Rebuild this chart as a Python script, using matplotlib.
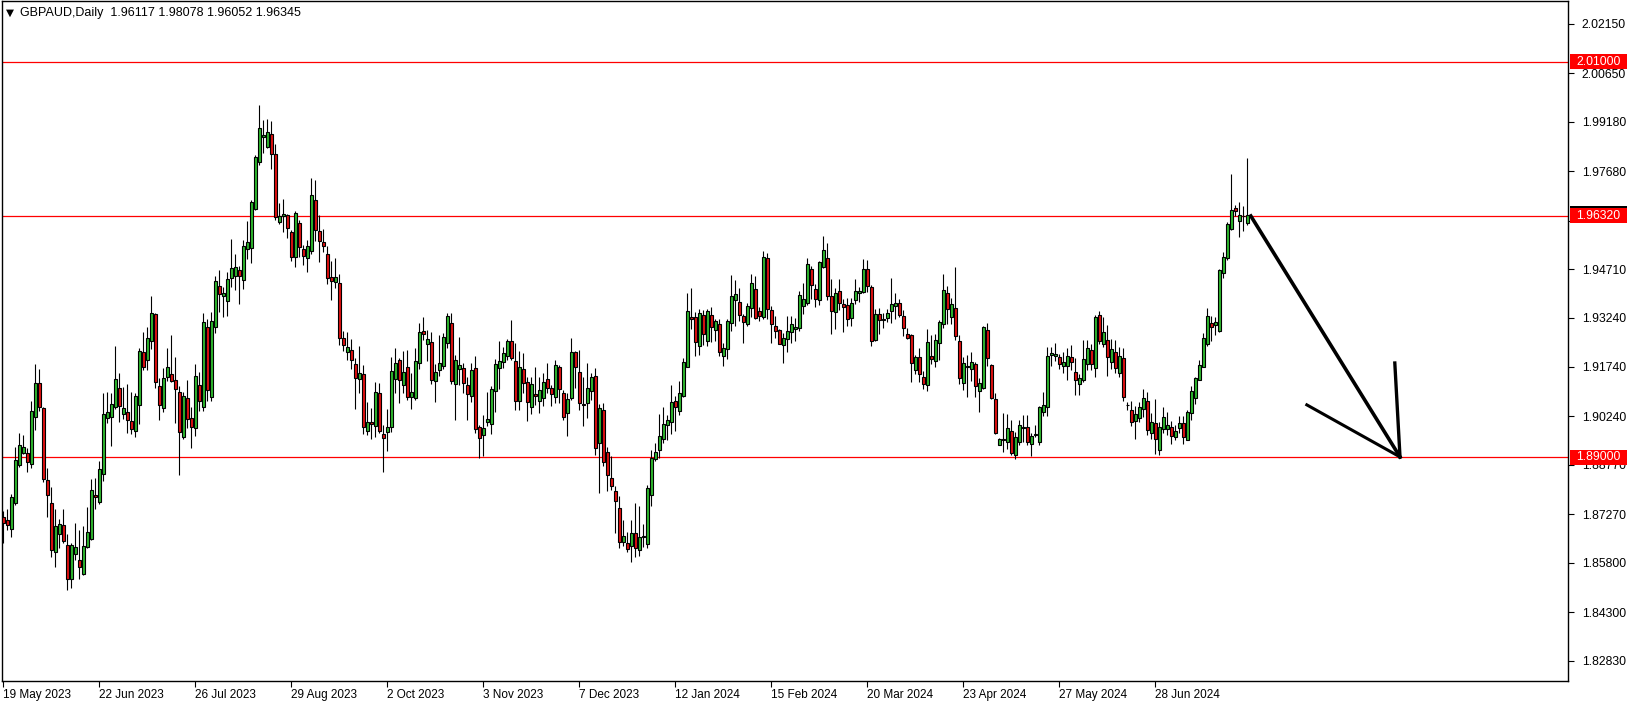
import numpy as np
import matplotlib
matplotlib.use("Agg")
import matplotlib.pyplot as plt
from matplotlib.patches import Rectangle
import matplotlib.transforms as mtransforms

plt.rcParams['font.family'] = ['Liberation Sans', 'DejaVu Sans']

# GBPAUD daily candles, bar 0 = 19 May 2023
opens = [1.8720, 1.8710, 1.8682, 1.8760, 1.8876, 1.8914, 1.8913, 1.8879, 1.9021, 1.9124,
         1.9049, 1.8830, 1.8761, 1.8614, 1.8666, 1.8694, 1.8634, 1.8530, 1.8608, 1.8589,
         1.8546, 1.8629, 1.8653, 1.8786, 1.8764, 1.8848, 1.9018, 1.9023, 1.9052, 1.9110,
         1.9030, 1.9036, 1.9010, 1.8981, 1.9058, 1.9219, 1.9194, 1.9252, 1.9334, 1.9116,
         1.9048, 1.9143, 1.9153, 1.9135, 1.9097, 1.8963, 1.9080, 1.9018, 1.8990, 1.9118,
         1.9051, 1.9295, 1.9082, 1.9295, 1.9419, 1.9388, 1.9373, 1.9444, 1.9449, 1.9468,
         1.9437, 1.9532, 1.9535, 1.9653, 1.9795, 1.9872, 1.9841, 1.9882, 1.9820, 1.9614,
         1.9631, 1.9635, 1.9584, 1.9508, 1.9611, 1.9532, 1.9504, 1.9525, 1.9681, 1.9586,
         1.9553, 1.9517, 1.9448, 1.9431, 1.9429, 1.9262, 1.9219, 1.9225, 1.9182, 1.9136,
         1.9152, 1.8981, 1.9008, 1.8994, 1.9095, 1.8970, 1.8976, 1.8991, 1.9138, 1.9196,
         1.9120, 1.9175, 1.9082, 1.9079, 1.9185, 1.9283, 1.9243, 1.9249, 1.9131, 1.9164,
         1.9176, 1.9246, 1.9307, 1.9122, 1.9169, 1.9170, 1.9119, 1.9087, 1.9170, 1.8992,
         1.8967, 1.9006, 1.9000, 1.9100, 1.9170, 1.9188, 1.9208, 1.9252, 1.9191, 1.9071,
         1.9167, 1.9127, 1.9052, 1.9091, 1.9071, 1.9079, 1.9137, 1.9109, 1.9082, 1.9175,
         1.9094, 1.9034, 1.9079, 1.9218, 1.9158, 1.9062, 1.9066, 1.9102, 1.9146, 1.8943,
         1.9043, 1.8915, 1.8838, 1.8797, 1.8745, 1.8644, 1.8639, 1.8631, 1.8669, 1.8619,
         1.8658, 1.8636, 1.8786, 1.8896, 1.8922, 1.8955, 1.8997, 1.9008, 1.9070, 1.9039,
         1.9087, 1.9175, 1.9325, 1.9325, 1.9237, 1.9332, 1.9252, 1.9331, 1.9286, 1.9304,
         1.9208, 1.9228, 1.9306, 1.9377, 1.9371, 1.9329, 1.9304, 1.9354, 1.9410, 1.9344,
         1.9325, 1.9504, 1.9346, 1.9298, 1.9287, 1.9242, 1.9260, 1.9280, 1.9289, 1.9291,
         1.9360, 1.9367, 1.9472, 1.9410, 1.9376, 1.9477, 1.9504, 1.9390, 1.9340, 1.9403,
         1.9366, 1.9361, 1.9323, 1.9376, 1.9399, 1.9400, 1.9471, 1.9418, 1.9256, 1.9336,
         1.9315, 1.9323, 1.9345, 1.9359, 1.9367, 1.9329, 1.9275, 1.9270, 1.9166, 1.9203,
         1.9145, 1.9119, 1.9206, 1.9191, 1.9248, 1.9303, 1.9399, 1.9326, 1.9354, 1.9254,
         1.9124, 1.9174, 1.9169, 1.9184, 1.9101, 1.9110, 1.9286, 1.9179, 1.9078, 1.8938,
         1.8954, 1.8945, 1.8979, 1.8906, 1.8947, 1.8990, 1.8993, 1.8940, 1.8967, 1.8947,
         1.9038, 1.9053, 1.9209, 1.9206, 1.9205, 1.9178, 1.9178, 1.9205, 1.9158, 1.9122,
         1.9133, 1.9182, 1.9225, 1.9172, 1.9331, 1.9244, 1.9255, 1.9188, 1.9219, 1.9157,
         1.9201, 1.9060, 1.9043, 1.9011, 1.9020, 1.9046, 1.9072, 1.8973, 1.9005, 1.8922,
         1.8985, 1.8985, 1.8993, 1.8961, 1.8988, 1.9003, 1.8953, 1.9034, 1.9079, 1.9135,
         1.9175, 1.9243, 1.9307, 1.9301, 1.9282, 1.9459, 1.9504, 1.9594, 1.9656, 1.9617,
         1.9633, 1.96117]
highs = [1.8738, 1.8742, 1.8789, 1.8930, 1.8973, 1.8968, 1.8927, 1.9072, 1.9183, 1.9167,
         1.9054, 1.8867, 1.8811, 1.8742, 1.8714, 1.8742, 1.8667, 1.8639, 1.8700, 1.8680,
         1.8690, 1.8750, 1.8833, 1.8836, 1.8889, 1.9094, 1.9098, 1.9096, 1.9238, 1.9155,
         1.9112, 1.9122, 1.9098, 1.9094, 1.9230, 1.9280, 1.9294, 1.9389, 1.9337, 1.9141,
         1.9170, 1.9231, 1.9271, 1.9205, 1.9116, 1.9098, 1.9135, 1.9054, 1.9182, 1.9160,
         1.9337, 1.9319, 1.9342, 1.9451, 1.9469, 1.9418, 1.9463, 1.9563, 1.9516, 1.9481,
         1.9560, 1.9618, 1.9682, 1.9818, 1.9970, 1.9924, 1.9926, 1.9919, 1.9849, 1.9671,
         1.9685, 1.9639, 1.9590, 1.9646, 1.9621, 1.9544, 1.9560, 1.9747, 1.9742, 1.9635,
         1.9593, 1.9542, 1.9495, 1.9504, 1.9457, 1.9284, 1.9281, 1.9260, 1.9200, 1.9238,
         1.9180, 1.9069, 1.9049, 1.9128, 1.9125, 1.8997, 1.9046, 1.9203, 1.9230, 1.9200,
         1.9221, 1.9226, 1.9155, 1.9230, 1.9307, 1.9325, 1.9287, 1.9280, 1.9183, 1.9271,
         1.9276, 1.9339, 1.9339, 1.9210, 1.9266, 1.9187, 1.9143, 1.9185, 1.9206, 1.8998,
         1.9028, 1.9098, 1.9115, 1.9197, 1.9254, 1.9236, 1.9258, 1.9317, 1.9248, 1.9223,
         1.9216, 1.9143, 1.9143, 1.9174, 1.9143, 1.9155, 1.9185, 1.9120, 1.9196, 1.9180,
         1.9104, 1.9094, 1.9261, 1.9223, 1.9225, 1.9143, 1.9187, 1.9155, 1.9170, 1.9061,
         1.9064, 1.8932, 1.8905, 1.8813, 1.8783, 1.8710, 1.8672, 1.8710, 1.8760, 1.8752,
         1.8698, 1.8816, 1.8922, 1.8943, 1.9032, 1.9054, 1.9028, 1.9120, 1.9087, 1.9132,
         1.9202, 1.9398, 1.9413, 1.9342, 1.9350, 1.9347, 1.9349, 1.9357, 1.9321, 1.9319,
         1.9248, 1.9321, 1.9454, 1.9438, 1.9415, 1.9334, 1.9368, 1.9456, 1.9449, 1.9357,
         1.9526, 1.9521, 1.9359, 1.9329, 1.9290, 1.9276, 1.9330, 1.9329, 1.9324, 1.9405,
         1.9428, 1.9504, 1.9479, 1.9426, 1.9496, 1.9570, 1.9550, 1.9442, 1.9413, 1.9442,
         1.9380, 1.9382, 1.9382, 1.9441, 1.9417, 1.9503, 1.9498, 1.9422, 1.9351, 1.9354,
         1.9338, 1.9349, 1.9445, 1.9397, 1.9379, 1.9348, 1.9291, 1.9273, 1.9210, 1.9230,
         1.9161, 1.9289, 1.9270, 1.9275, 1.9316, 1.9455, 1.9419, 1.9382, 1.9476, 1.9270,
         1.9205, 1.9210, 1.9220, 1.9189, 1.9141, 1.9298, 1.9306, 1.9182, 1.9096, 1.8957,
         1.9033, 1.9030, 1.9012, 1.8977, 1.9014, 1.9028, 1.9028, 1.8974, 1.8997, 1.9055,
         1.9098, 1.9235, 1.9235, 1.9248, 1.9213, 1.9218, 1.9231, 1.9241, 1.9201, 1.9152,
         1.9256, 1.9256, 1.9244, 1.9332, 1.9344, 1.9325, 1.9302, 1.9258, 1.9256, 1.9235,
         1.9233, 1.9069, 1.9070, 1.9056, 1.9067, 1.9107, 1.9099, 1.9034, 1.9077, 1.9008,
         1.9051, 1.9036, 1.9011, 1.8998, 1.9025, 1.9025, 1.9044, 1.9115, 1.9145, 1.9196,
         1.9278, 1.9352, 1.9330, 1.9327, 1.9472, 1.9522, 1.9615, 1.9760, 1.9666, 1.9673,
         1.9661, 1.98078]
lows = [1.8639, 1.8678, 1.8659, 1.8755, 1.8869, 1.8910, 1.8855, 1.8867, 1.8984, 1.9039,
        1.8825, 1.8718, 1.8597, 1.8566, 1.8626, 1.8639, 1.8497, 1.8502, 1.8589, 1.8530,
        1.8542, 1.8625, 1.8650, 1.8744, 1.8757, 1.8829, 1.9005, 1.8935, 1.9046, 1.9006,
        1.9015, 1.8975, 1.8971, 1.8963, 1.9001, 1.9165, 1.9165, 1.9228, 1.9111, 1.9012,
        1.9036, 1.9130, 1.9127, 1.9003, 1.8847, 1.8955, 1.8988, 1.8929, 1.8965, 1.9041,
        1.9041, 1.9072, 1.9071, 1.9277, 1.9340, 1.9327, 1.9329, 1.9418, 1.9408, 1.9364,
        1.9412, 1.9503, 1.9488, 1.9649, 1.9788, 1.9823, 1.9837, 1.9775, 1.9619, 1.9607,
        1.9582, 1.9565, 1.9495, 1.9477, 1.9508, 1.9482, 1.9461, 1.9518, 1.9555, 1.9491,
        1.9522, 1.9425, 1.9376, 1.9415, 1.9240, 1.9221, 1.9196, 1.9167, 1.9046, 1.9095,
        1.8970, 1.8969, 1.8955, 1.8961, 1.8975, 1.8854, 1.8918, 1.8976, 1.9095, 1.9066,
        1.9095, 1.9074, 1.9046, 1.9075, 1.9167, 1.9256, 1.9193, 1.9122, 1.9069, 1.9147,
        1.9168, 1.9230, 1.9122, 1.9014, 1.9119, 1.9094, 1.9014, 1.9069, 1.8975, 1.8897,
        1.8905, 1.8995, 1.8972, 1.9037, 1.9108, 1.9170, 1.9194, 1.9196, 1.9042, 1.9042,
        1.9094, 1.9011, 1.9031, 1.9059, 1.9034, 1.9056, 1.9094, 1.9057, 1.9064, 1.9064,
        1.9013, 1.8966, 1.9074, 1.9109, 1.9042, 1.8996, 1.9020, 1.9074, 1.8907, 1.8791,
        1.8872, 1.8799, 1.8801, 1.8671, 1.8624, 1.8631, 1.8614, 1.8583, 1.8598, 1.8600,
        1.8629, 1.8624, 1.8752, 1.8890, 1.8897, 1.8943, 1.8951, 1.8972, 1.8981, 1.9029,
        1.9084, 1.9173, 1.9290, 1.9206, 1.9211, 1.9241, 1.9238, 1.9251, 1.9253, 1.9208,
        1.9178, 1.9199, 1.9282, 1.9297, 1.9312, 1.9248, 1.9297, 1.9325, 1.9319, 1.9312,
        1.9319, 1.9319, 1.9248, 1.9263, 1.9244, 1.9187, 1.9218, 1.9246, 1.9254, 1.9284,
        1.9334, 1.9362, 1.9380, 1.9357, 1.9362, 1.9474, 1.9376, 1.9273, 1.9290, 1.9346,
        1.9280, 1.9298, 1.9298, 1.9366, 1.9372, 1.9397, 1.9402, 1.9238, 1.9254, 1.9273,
        1.9291, 1.9311, 1.9308, 1.9321, 1.9326, 1.9268, 1.9258, 1.9129, 1.9154, 1.9129,
        1.9108, 1.9102, 1.9184, 1.9173, 1.9194, 1.9291, 1.9305, 1.9305, 1.9255, 1.9121,
        1.9105, 1.9083, 1.9132, 1.9083, 1.9038, 1.9108, 1.9176, 1.9078, 1.8972, 1.8936,
        1.8916, 1.8924, 1.8908, 1.8894, 1.8938, 1.8945, 1.8936, 1.8904, 1.8962, 1.8938,
        1.9025, 1.9025, 1.9178, 1.9193, 1.9169, 1.9155, 1.9133, 1.9165, 1.9089, 1.9089,
        1.9127, 1.9165, 1.9165, 1.9145, 1.9244, 1.9234, 1.9148, 1.9169, 1.9157, 1.9143,
        1.9072, 1.9042, 1.8996, 1.8955, 1.9008, 1.9023, 1.8968, 1.8955, 1.8910, 1.8907,
        1.8975, 1.8968, 1.8940, 1.8953, 1.8973, 1.8939, 1.8951, 1.9013, 1.9061, 1.9133,
        1.9173, 1.9239, 1.9253, 1.9271, 1.9279, 1.9443, 1.9500, 1.9590, 1.9631, 1.9568,
        1.9588, 1.96052]
closes = [1.8700, 1.8693, 1.8779, 1.8892, 1.8937, 1.8931, 1.8887, 1.9040, 1.9124, 1.9052,
          1.8835, 1.8785, 1.8618, 1.8691, 1.8697, 1.8645, 1.8530, 1.8634, 1.8628, 1.8568,
          1.8631, 1.8674, 1.8801, 1.8779, 1.8865, 1.9031, 1.9036, 1.9061, 1.9138, 1.9055,
          1.9050, 1.9012, 1.8987, 1.9087, 1.9223, 1.9175, 1.9261, 1.9337, 1.9127, 1.9060,
          1.9140, 1.9175, 1.9131, 1.9106, 1.8978, 1.9086, 1.9017, 1.8993, 1.9146, 1.9070,
          1.9309, 1.9103, 1.9313, 1.9436, 1.9395, 1.9399, 1.9441, 1.9474, 1.9477, 1.9450,
          1.9542, 1.9553, 1.9675, 1.9811, 1.9899, 1.9878, 1.9887, 1.9820, 1.9629, 1.9632,
          1.9637, 1.9595, 1.9508, 1.9641, 1.9537, 1.9510, 1.9542, 1.9696, 1.9590, 1.9555,
          1.9540, 1.9443, 1.9434, 1.9447, 1.9262, 1.9241, 1.9234, 1.9195, 1.9140, 1.9157,
          1.8993, 1.9007, 1.9001, 1.9098, 1.8981, 1.8958, 1.8991, 1.9161, 1.9186, 1.9135,
          1.9159, 1.9082, 1.9098, 1.9192, 1.9280, 1.9273, 1.9258, 1.9135, 1.9158, 1.9185,
          1.9264, 1.9328, 1.9131, 1.9194, 1.9179, 1.9125, 1.9091, 1.9165, 1.8985, 1.8958,
          1.8988, 1.9015, 1.9106, 1.9183, 1.9191, 1.9216, 1.9252, 1.9200, 1.9071, 1.9175,
          1.9125, 1.9068, 1.9122, 1.9087, 1.9104, 1.9127, 1.9109, 1.9091, 1.9179, 1.9106,
          1.9023, 1.9076, 1.9219, 1.9173, 1.9066, 1.9060, 1.9109, 1.9143, 1.8927, 1.9049,
          1.8887, 1.8845, 1.8814, 1.8766, 1.8642, 1.8661, 1.8623, 1.8669, 1.8626, 1.8657,
          1.8660, 1.8806, 1.8897, 1.8915, 1.8964, 1.9000, 1.9012, 1.9067, 1.9052, 1.9094,
          1.9188, 1.9344, 1.9321, 1.9251, 1.9337, 1.9275, 1.9344, 1.9295, 1.9313, 1.9220,
          1.9231, 1.9314, 1.9390, 1.9395, 1.9331, 1.9309, 1.9360, 1.9428, 1.9322, 1.9330,
          1.9507, 1.9350, 1.9304, 1.9284, 1.9245, 1.9262, 1.9284, 1.9304, 1.9296, 1.9392,
          1.9381, 1.9487, 1.9422, 1.9381, 1.9492, 1.9529, 1.9388, 1.9343, 1.9398, 1.9369,
          1.9357, 1.9321, 1.9367, 1.9403, 1.9404, 1.9471, 1.9420, 1.9254, 1.9336, 1.9315,
          1.9321, 1.9339, 1.9364, 1.9367, 1.9333, 1.9291, 1.9263, 1.9187, 1.9203, 1.9154,
          1.9122, 1.9250, 1.9197, 1.9256, 1.9311, 1.9406, 1.9349, 1.9364, 1.9269, 1.9142,
          1.9187, 1.9178, 1.9189, 1.9117, 1.9124, 1.9295, 1.9202, 1.9080, 1.8974, 1.8955,
          1.8951, 1.8990, 1.8913, 1.8960, 1.8999, 1.8993, 1.8947, 1.8965, 1.8970, 1.9051,
          1.9060, 1.9206, 1.9217, 1.9214, 1.9182, 1.9188, 1.9207, 1.9190, 1.9134, 1.9140,
          1.9198, 1.9231, 1.9182, 1.9325, 1.9252, 1.9280, 1.9204, 1.9228, 1.9172, 1.9208,
          1.9084, 1.9058, 1.9008, 1.9032, 1.9052, 1.9079, 1.8983, 1.9008, 1.8955, 1.8991,
          1.9021, 1.8997, 1.8965, 1.8981, 1.9003, 1.8963, 1.9037, 1.9101, 1.9140, 1.9179,
          1.9261, 1.9328, 1.9294, 1.9310, 1.9469, 1.9507, 1.9608, 1.9651, 1.9647, 1.9635,
          1.9631, 1.96345]

# date labels every 24 bars
date_labels = ['19 May 2023', '22 Jun 2023', '26 Jul 2023', '29 Aug 2023', '2 Oct 2023',
               '3 Nov 2023', '7 Dec 2023', '12 Jan 2024', '15 Feb 2024', '20 Mar 2024',
               '23 Apr 2024', '27 May 2024', '28 Jun 2024']
price_ticks = [2.02150, 2.00650, 1.99180, 1.97680, 1.96180, 1.94710, 1.93240,
               1.91740, 1.90240, 1.88770, 1.87270, 1.85800, 1.84300, 1.82830]
hidden_tick = 1.96180   # sits fully under the 1.96320 label

# horizontal levels and the hand drawn arrow (bar index, price)
levels = [2.01000, 1.96320, 1.89000]
arrow_main_x = [311.9, 349.2]
arrow_main_y = [1.9632, 1.8901]
arrow_left_x = [325.9, 349.2]
arrow_left_y = [1.9059, 1.8901]
arrow_up_x = [347.9, 349.2]
arrow_up_y = [1.9186, 1.8901]

W, H = 1634, 704
fig = plt.figure(figsize=(W / 100, H / 100), dpi=100)
ax = fig.add_axes([2 / W, 1 - 681 / H, 1566 / W, 680 / H])

o = np.array(opens)
h = np.array(highs)
l = np.array(lows)
c = np.array(closes)
x = np.arange(len(o))

# wicks
ax.vlines(x, l, h, color='black', linewidth=0.8, zorder=2)
# bodies
up = c >= o
body_bottom = np.minimum(o, c)
body_height = np.abs(c - o)
colors = np.where(up, '#2eb82e', '#e01010')
ax.bar(x, body_height, bottom=body_bottom, width=0.64, color=colors,
       edgecolor='black', linewidth=0.8, zorder=3)

for lvl in levels:
    ax.axhline(lvl, color='#ff0000', linewidth=0.9, zorder=1)

ax.plot(arrow_main_x, arrow_main_y, color='black', linewidth=2.6, zorder=4)
ax.plot(arrow_left_x, arrow_left_y, color='black', linewidth=2.2, zorder=4)
ax.plot(arrow_up_x, arrow_up_y, color='black', linewidth=2.4, zorder=4)

ax.set_xlim(-0.325, 391.2)
ax.set_ylim(1.82212, 2.02843)

ax.set_xticks(np.arange(len(date_labels)) * 24)
ax.set_xticklabels(date_labels, ha='left')
ax.tick_params(axis='x', direction='out', length=4, width=0.8, pad=2, labelsize=8.5)

ax.yaxis.tick_right()
ax.set_yticks(price_ticks)
ax.set_yticklabels(['' if p == hidden_tick else f'{p:.5f}' for p in price_ticks])
ax.tick_params(axis='y', direction='out', length=4, width=0.8, pad=6, labelsize=8.8)

for sp in ax.spines.values():
    sp.set_linewidth(1.0)
    sp.set_color('black')

# price labels on the right scale
trans = mtransforms.blended_transform_factory(ax.transAxes, ax.transData)
box_x0 = (1570 - 2) / 1566
box_w = 57 / 1566
box_h = 15 / 3296
ax.add_patch(Rectangle((box_x0, 1.96381 - box_h / 2), box_w, box_h, transform=trans,
                       facecolor='black', edgecolor='none', clip_on=False, zorder=9))
for lvl in levels:
    ax.add_patch(Rectangle((box_x0, lvl - box_h / 2), box_w, box_h, transform=trans,
                           facecolor='#ff0000', edgecolor='none', clip_on=False, zorder=10))
    ax.text(box_x0 + box_w / 2, lvl, f'{lvl:.5f}', transform=trans, ha='center', va='center',
            color='white', fontsize=8.8, clip_on=False, zorder=11)

# header
fig.text(6 / W, 1 - 13 / H, '\u25bc', fontsize=7.5, va='center', ha='left',
         family=['DejaVu Sans'])
fig.text(20 / W, 1 - 13 / H, 'GBPAUD,Daily  1.96117 1.98078 1.96052 1.96345',
         fontsize=9, va='center', ha='left')

fig.savefig('out.png', dpi=100, facecolor='white')
